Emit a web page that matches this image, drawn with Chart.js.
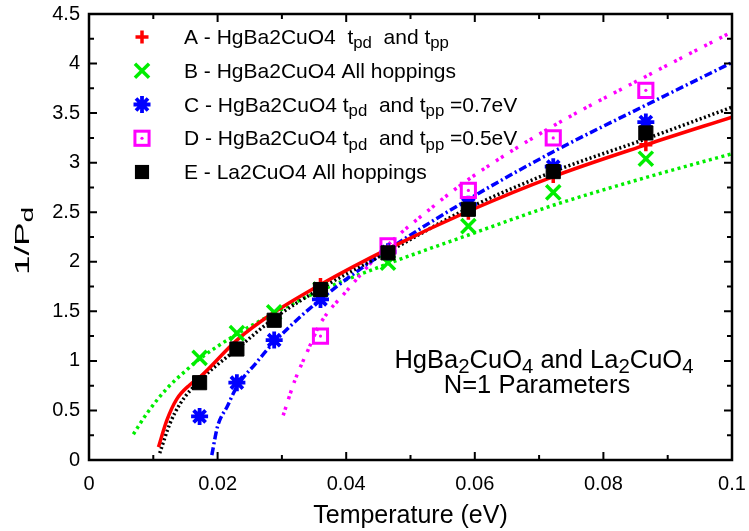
<!DOCTYPE html>
<html>
<head>
<meta charset="utf-8">
<script src="https://cdn.jsdelivr.net/npm/chart.js@4.4.1/dist/chart.umd.min.js"></script>
<style>
  html, body { margin: 0; padding: 0; background: #fff; }
  #wrap { width: 749px; height: 531px; }
</style>
</head>
<body>
<div id="wrap"><canvas id="chart" width="749" height="531"></canvas></div>
<script>
// --- computed points (temperature in eV) ---
const temps   = [0.0172, 0.0230, 0.0288, 0.0360, 0.0465, 0.0590, 0.0722, 0.0866];
const seriesA = [0.79, 1.12, 1.41, 1.77, 2.11, 2.49, 2.86, 3.18];
const seriesB = [1.03, 1.28, 1.49, 1.72, 1.99, 2.36, 2.70, 3.04];
const seriesC = [0.44, 0.78, 1.21, 1.62, 2.10, 2.58, 2.96, 3.41];
const seriesD = [null, null, null, 1.25, 2.16, 2.72, 3.25, 3.73];
const seriesE = [0.78, 1.12, 1.41, 1.72, 2.09, 2.53, 2.91, 3.30];

// --- fitted curves ---
const fitAx = [0.0108, 0.0121, 0.0136, 0.0157, 0.0173, 0.0230, 0.0288, 0.0360, 0.0465, 0.0590, 0.0722, 0.0866, 0.1000];
const fitAy = [0.13, 0.40, 0.61, 0.76, 0.84, 1.21, 1.49, 1.77, 2.13, 2.51, 2.86, 3.18, 3.46];
const fitBx = [0.0069, 0.0090, 0.0121, 0.0152, 0.0172, 0.0230, 0.0288, 0.0360, 0.0465, 0.0590, 0.0722, 0.0866, 0.1000];
const fitBy = [0.26, 0.47, 0.72, 0.91, 1.02, 1.27, 1.48, 1.71, 1.98, 2.27, 2.57, 2.85, 3.09];
const fitCx = [0.0191, 0.0200, 0.0215, 0.0230, 0.0260, 0.0288, 0.0360, 0.0465, 0.0590, 0.0722, 0.0866, 0.1000];
const fitCy = [0.05, 0.34, 0.54, 0.74, 0.98, 1.19, 1.62, 2.12, 2.63, 3.11, 3.58, 4.01];
const fitDx = [0.0302, 0.0320, 0.0340, 0.0360, 0.0400, 0.0465, 0.0530, 0.0590, 0.0722, 0.0866, 0.1000];
const fitDy = [0.45, 0.80, 1.10, 1.38, 1.70, 2.17, 2.53, 2.83, 3.37, 3.87, 4.32];
const fitEx = [0.0110, 0.0126, 0.0142, 0.0172, 0.0230, 0.0288, 0.0360, 0.0465, 0.0590, 0.0722, 0.0866, 0.1000];
const fitEy = [0.07, 0.37, 0.57, 0.80, 1.12, 1.43, 1.73, 2.10, 2.54, 2.91, 3.24, 3.56];

// --- axes ---
const xTickLabels = ['0', '0.02', '0.04', '0.06', '0.08', '0.1'];
const yTickLabels = ['0', '0.5', '1', '1.5', '2', '2.5', '3', '3.5', '4', '4.5'];

// legend text, [text, subscript?]
const legendLabels = [
    [['A - HgBa2CuO4  t', 0], ['pd', 1], ['  and t', 0], ['pp', 1]],
    [['B - HgBa2CuO4 All hoppings', 0]],
    [['C - HgBa2CuO4 t', 0], ['pd', 1], ['  and t', 0], ['pp', 1], [' =0.7eV', 0]],
    [['D - HgBa2CuO4 t', 0], ['pd', 1], ['  and t', 0], ['pp', 1], [' =0.5eV', 0]],
    [['E - La2CuO4 All hoppings', 0]]
];
const noteLine1 = [['HgBa', 0], ['2', 1], ['CuO', 0], ['4', 1], [' and La', 0], ['2', 1], ['CuO', 0], ['4', 1]];
const noteLine2 = [['N=1 Parameters', 0]];

const FONT = '"Liberation Sans", Arial, sans-serif';

function toPoints(xs, ys) {
    return xs.map((x, i) => ({ x: x, y: ys[i] })).filter(p => p.y !== null);
}

// marker looks, shared by the datasets and the legend
const markers = [
    { style: 'cross',    radius: 6.5, color: '#ff0000', width: 3.5, fill: false },
    { style: 'crossRot', radius: 10,  color: '#00ee00', width: 3.5, fill: false },
    { style: 'star',     radius: 8.5, color: '#0000ff', width: 3.8, fill: false },
    { style: 'rect',     radius: 10,  color: '#ff00ff', width: 3,   fill: false, dot: true },
    { style: 'rect',     radius: 10,  color: '#000000', width: 1,   fill: true }
];

function pointDataset(ys, m, order) {
    return {
        data: toPoints(temps, ys),
        pointStyle: m.style,
        pointRadius: m.radius,
        pointBorderWidth: m.width,
        pointBorderColor: m.color,
        pointBackgroundColor: m.fill ? m.color : 'rgba(0,0,0,0)',
        showLine: false,
        order: order
    };
}

function curveDataset(xs, ys, color, dash, width, order) {
    return {
        data: toPoints(xs, ys),
        showLine: true,
        borderColor: color,
        borderWidth: width,
        borderDash: dash,
        pointRadius: 0,
        cubicInterpolationMode: 'monotone',
        order: order
    };
}

function drawRich(ctx, parts, x, y, size, align) {
    const widths = parts.map(([t, sub]) => {
        ctx.font = (sub ? size * 0.8 : size) + 'px ' + FONT;
        return ctx.measureText(t).width;
    });
    const total = widths.reduce((s, w) => s + w, 0);
    let cx = align === 'center' ? x - total / 2 : x;
    ctx.textAlign = 'left';
    ctx.textBaseline = 'alphabetic';
    parts.forEach(([t, sub], i) => {
        ctx.font = (sub ? size * 0.8 : size) + 'px ' + FONT;
        ctx.fillText(t, cx, sub ? y + size * 0.21 : y);
        cx += widths[i];
    });
}

function drawMarker(ctx, m, x, y) {
    ctx.save();
    ctx.strokeStyle = m.color;
    ctx.fillStyle = m.color;
    ctx.lineWidth = m.width;
    const r = m.radius;
    ctx.beginPath();
    if (m.style === 'cross' || m.style === 'star') {
        ctx.moveTo(x - r, y); ctx.lineTo(x + r, y);
        ctx.moveTo(x, y - r); ctx.lineTo(x, y + r);
    }
    if (m.style === 'crossRot' || m.style === 'star') {
        const o = r * Math.SQRT1_2;
        ctx.moveTo(x - o, y - o); ctx.lineTo(x + o, y + o);
        ctx.moveTo(x - o, y + o); ctx.lineTo(x + o, y - o);
    }
    ctx.stroke();
    if (m.style === 'rect') {
        const s = r * Math.SQRT1_2;
        if (m.fill) ctx.fillRect(x - s, y - s, 2 * s, 2 * s);
        else ctx.strokeRect(x - s, y - s, 2 * s, 2 * s);
    }
    if (m.dot) {
        ctx.beginPath();
        ctx.arc(x, y, 1.6, 0, Math.PI * 2);
        ctx.fill();
    }
    ctx.restore();
}

// frame, inward ticks, titles, legend and the note
const decorPlugin = {
    id: 'decor',
    afterDraw(chart) {
        const { ctx, chartArea: a, scales } = chart;
        const sx = scales.x, sy = scales.y;
        ctx.save();
        ctx.strokeStyle = '#000';
        ctx.lineWidth = 2;
        ctx.beginPath();
        for (let v = 0; v <= 0.1001; v += 0.01) {
            const px = sx.getPixelForValue(v);
            const len = Math.round(v * 100) % 2 === 0 ? 8 : 5;
            ctx.moveTo(px, a.bottom); ctx.lineTo(px, a.bottom - len);
            ctx.moveTo(px, a.top); ctx.lineTo(px, a.top + len);
        }
        for (let v = 0; v <= 4.501; v += 0.25) {
            const py = sy.getPixelForValue(v);
            const len = Math.round(v * 4) % 2 === 0 ? 8 : 5;
            ctx.moveTo(a.left, py); ctx.lineTo(a.left + len, py);
            ctx.moveTo(a.right, py); ctx.lineTo(a.right - len, py);
        }
        ctx.stroke();
        ctx.lineWidth = 2.5;
        ctx.strokeRect(a.left, a.top, a.right - a.left, a.bottom - a.top);

        ctx.fillStyle = '#000';
        // axis titles
        drawRich(ctx, [['Temperature (eV)', 0]], (a.left + a.right) / 2, 523, 25, 'center');
        ctx.save();
        ctx.translate(29, 241);
        ctx.rotate(-Math.PI / 2);
        ctx.scale(1.75, 1);
        drawRich(ctx, [['1/P', 0], ['d', 1]], 0, 0, 20, 'center');
        ctx.restore();

        // legend
        const rows = [37, 70.75, 104.5, 138.25, 172];
        legendLabels.forEach((parts, i) => {
            drawMarker(ctx, markers[i], 142, rows[i]);
            ctx.fillStyle = '#000';
            drawRich(ctx, parts, 184, rows[i] + 7, 21, 'left');
        });

        // note
        drawRich(ctx, noteLine1, 544, 368, 25.5, 'center');
        drawRich(ctx, noteLine2, 537, 393, 25.5, 'center');
        ctx.restore();
    }
};

document.addEventListener('DOMContentLoaded', () => {
    const ctx = document.getElementById('chart').getContext('2d');
    const dot = { style: 'circle', radius: 1.6, color: '#ff00ff', width: 0, fill: true };

    new Chart(ctx, {
        type: 'scatter',
        data: {
            datasets: [
                pointDataset(seriesE, markers[4], 0),
                pointDataset(seriesD, dot, 1),
                pointDataset(seriesD, markers[3], 2),
                pointDataset(seriesC, markers[2], 3),
                pointDataset(seriesB, markers[1], 4),
                pointDataset(seriesA, markers[0], 5),
                curveDataset(fitAx, fitAy, '#ff0000', [], 3.5, 10),
                curveDataset(fitEx, fitEy, '#000000', [2, 2.5], 3.5, 11),
                curveDataset(fitCx, fitCy, '#0000ff', [8, 3, 2, 3], 3.5, 12),
                curveDataset(fitDx, fitDy, '#ff00ff', [3, 3, 3, 8], 3.5, 13),
                curveDataset(fitBx, fitBy, '#00ee00', [3, 3.5], 3.5, 14)
            ]
        },
        options: {
            responsive: false,
            animation: false,
            events: [],
            layout: { padding: { top: 14, right: 17, left: 0, bottom: 0 } },
            plugins: { legend: { display: false }, tooltip: { enabled: false } },
            scales: {
                x: {
                    type: 'linear', min: 0, max: 0.1,
                    afterFit(s) { s.height = 71; s.paddingLeft = 0; s.paddingRight = 0; },
                    grid: { display: false, drawTicks: false },
                    border: { display: false },
                    ticks: {
                        stepSize: 0.02, padding: 12, autoSkip: false, maxRotation: 0,
                        color: '#000', font: { family: FONT, size: 20 },
                        callback: (v, i) => xTickLabels[i]
                    }
                },
                y: {
                    type: 'linear', min: 0, max: 4.5,
                    afterFit(s) { s.width = 89; s.paddingTop = 0; s.paddingBottom = 0; },
                    grid: { display: false, drawTicks: false },
                    border: { display: false },
                    ticks: {
                        stepSize: 0.5, padding: 9, autoSkip: false,
                        color: '#000', font: { family: FONT, size: 20 },
                        callback: (v, i) => yTickLabels[i]
                    }
                }
            }
        },
        plugins: [decorPlugin]
    });
});
</script>
</body>
</html>
